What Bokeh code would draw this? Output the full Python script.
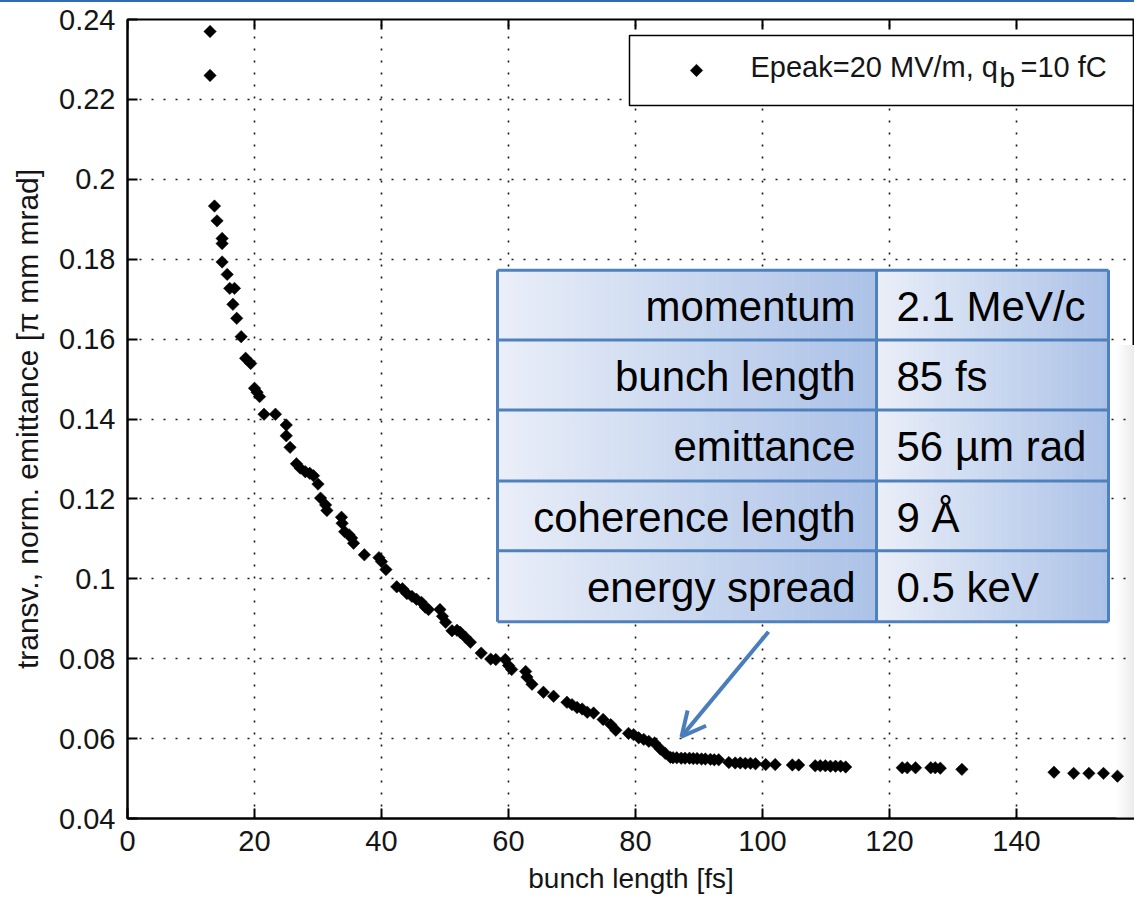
import math
from bokeh.plotting import figure
from bokeh.layouts import column
from bokeh.models import Range1d, FixedTicker, Arrow, OpenHead, Div
from bokeh.core.properties import value
from bokeh.embed import file_html
from bokeh.resources import INLINE

# ---------------- data ----------------
bunch_length_fs = [
    13.0, 13.0, 13.7, 14.1, 14.9, 14.9, 14.9, 15.7, 16.1, 16.85, 16.6, 17.2, 17.9,
    18.6, 19.4, 20.0, 20.4, 20.8, 21.5, 23.3, 25.0, 25.0, 25.6, 26.6, 27.2, 28.0,
    28.7, 29.3, 30.0, 30.4, 31.2, 31.4, 33.7, 33.8, 34.2, 34.9, 35.3, 35.6, 37.3,
    39.6, 40.0, 40.7, 42.4, 43.3, 44.0, 44.8, 45.5, 46.3, 46.9, 47.4, 49.2, 49.6,
    50.1, 51.1, 51.9, 52.4, 53.2, 54.0, 55.7, 57.2, 58.0, 59.5, 60.0, 60.5, 62.7,
    62.9, 63.7, 65.5, 67.1, 69.2, 70.0, 70.8, 71.6, 72.4, 73.4, 74.9, 76.1, 76.9,
    78.9, 79.7, 80.5, 81.3, 82.1, 83.0, 83.9, 84.7, 85.5, 85.9, 86.5, 87.2, 87.8,
    88.5, 89.1, 89.7, 90.4, 91.0, 91.8, 92.4, 93.1, 94.7, 95.7, 96.5, 97.3, 98.1,
    98.9, 100.5, 102.0, 104.7, 105.7, 108.3, 109.1, 109.9, 110.7, 111.5, 112.3,
    113.1, 122.0, 122.8, 124.1, 126.5, 127.2, 128.0, 131.4, 145.9, 149.0, 151.4,
    153.7, 155.9,
]
emittance = [
    0.2370, 0.2260, 0.1933, 0.1896, 0.1852, 0.1839, 0.1793, 0.1762, 0.1727, 0.1727,
    0.1687, 0.1652, 0.1606, 0.1552, 0.1539, 0.1477, 0.1467, 0.1456, 0.1412, 0.1412,
    0.1385, 0.1358, 0.1329, 0.1288, 0.1277, 0.1268, 0.1264, 0.1258, 0.1237, 0.1202,
    0.1185, 0.1171, 0.1154, 0.1139, 0.1118, 0.1110, 0.1102, 0.1089, 0.1060, 0.1053,
    0.1043, 0.1023, 0.0980, 0.0975, 0.0963, 0.0956, 0.0949, 0.0941, 0.0929, 0.0923,
    0.0923, 0.0906, 0.0891, 0.0870, 0.0871, 0.0866, 0.0854, 0.0841, 0.0814, 0.0799,
    0.0798, 0.0798, 0.0783, 0.0773, 0.0768, 0.0754, 0.0736, 0.0716, 0.0706, 0.0691,
    0.0685, 0.0678, 0.0674, 0.0666, 0.0664, 0.0648, 0.0635, 0.0621, 0.0613, 0.0610,
    0.0602, 0.0598, 0.0593, 0.0589, 0.0574, 0.0563, 0.0553, 0.0552, 0.0552, 0.0551,
    0.0551, 0.0551, 0.0550, 0.0550, 0.0549, 0.0549, 0.0548, 0.0547, 0.0547, 0.0540,
    0.0539, 0.0539, 0.0538, 0.0538, 0.0537, 0.0535, 0.0535, 0.0534, 0.0534, 0.0532,
    0.0532, 0.0532, 0.0531, 0.0531, 0.0531, 0.0529, 0.0527, 0.0527, 0.0527, 0.0527,
    0.0527, 0.0526, 0.0523, 0.0516, 0.0513, 0.0513, 0.0513, 0.0506,
]

x_ticks = [0, 20, 40, 60, 80, 100, 120, 140, 160]
x_tick_labels = ["0", "20", "40", "60", "80", "100", "120", "140", "160"]
y_ticks = [0.04, 0.06, 0.08, 0.10, 0.12, 0.14, 0.16, 0.18, 0.20, 0.22, 0.24]
y_tick_labels = ["0.04", "0.06", "0.08", "0.1", "0.12", "0.14", "0.16", "0.18",
                 "0.2", "0.22", "0.24"]

x_label = "bunch length [fs]"
y_label = "transv., norm. emittance [π mm mrad]"
legend_main = "Epeak=20 MV/m, q"
legend_sub = "b"
legend_tail = "=10 fC"

table_params = ["momentum", "bunch length", "emittance", "coherence length", "energy spread"]
table_values = ["2.1 MeV/c", "85 fs", "56 µm rad", "9 Å", "0.5 keV"]

# ---------------- layout (picture pixels) ----------------
BAR = 2                      # thin blue slide line at the very top
W, H = 1134, 896 - BAR
X_MIN, Y_MIN, Y_MAX = 0.0, 0.04, 0.24
XS = 127.0 / 20.0            # px per fs in the reference
IMG_FL, IMG_FT, IMG_FB = 127, 19, 819
FL, FT, FB = IMG_FL, IMG_FT - BAR, IMG_FB - BAR
X_MAX = X_MIN + (W - FL) / XS
YS = (FB - FT) / (Y_MAX - Y_MIN)


def dx(img_px):
    """picture-pixel x -> data x"""
    return X_MIN + (img_px - IMG_FL) / XS


def dy(img_px):
    """picture-pixel y -> data y"""
    return Y_MIN + (IMG_FB - img_px) / YS


def mid(baseline_px, size):
    """vertical middle of a text line whose baseline is at baseline_px"""
    return dy(baseline_px - 0.3465 * size)


FONT = "Liberation Sans"
TXT = "#151515"

p = figure(width=W, height=H, output_backend="svg", toolbar_location=None,
           x_range=Range1d(X_MIN, X_MAX), y_range=Range1d(Y_MIN, Y_MAX),
           min_border_left=FL, min_border_right=0, min_border_top=FT,
           min_border_bottom=H - FB)
p.background_fill_color = "white"
p.border_fill_color = "white"
p.outline_line_color = "black"
p.outline_line_width = 2

for ax in (p.xaxis[0], p.yaxis[0]):
    ax.axis_line_width = 2
    ax.axis_line_color = "black"
    ax.major_tick_in = 10
    ax.major_tick_out = 0
    ax.major_tick_line_width = 2
    ax.major_tick_line_color = "black"
    ax.minor_tick_line_color = None
    ax.major_label_text_font = FONT
    ax.major_label_text_font_size = "29px"
    ax.major_label_text_color = TXT
    ax.axis_label_text_font = FONT
    ax.axis_label_text_font_style = "normal"
    ax.axis_label_text_color = TXT

p.xaxis.ticker = FixedTicker(ticks=x_ticks)
p.yaxis.ticker = FixedTicker(ticks=y_ticks)
p.xaxis.major_label_overrides = {t: l for t, l in zip(x_ticks, x_tick_labels)}
p.yaxis.major_label_overrides = {t: l for t, l in zip(y_ticks, y_tick_labels)}
p.xaxis.axis_label = x_label
p.yaxis.axis_label = y_label
p.xaxis.axis_label_text_font_size = "28px"
p.yaxis.axis_label_text_font_size = "30px"
p.xaxis.major_label_standoff = 12
p.xaxis.axis_label_standoff = 9
p.yaxis.major_label_standoff = 12
p.yaxis.axis_label_standoff = 12

for g in (p.xgrid[0], p.ygrid[0]):
    g.grid_line_color = "black"
    g.grid_line_width = 1.6
    g.grid_line_dash = "2 10"
    g.grid_line_alpha = 0.9
p.xgrid.ticker = FixedTicker(ticks=x_ticks)
p.ygrid.ticker = FixedTicker(ticks=y_ticks)

# faint slide shadow at the right edge
sh_n = 12
sh_l = [dx(1116 + i * 18 / sh_n) for i in range(sh_n)]
sh_r = [dx(1116 + (i + 1) * 18 / sh_n + 0.5) for i in range(sh_n)]
sh_c = ["#%02x%02x%02x" % ((255 - round(20 * (i + 1) / sh_n),) * 3) for i in range(sh_n)]
p.quad(left=sh_l, right=sh_r, top=[dy(345)] * sh_n, bottom=[Y_MIN] * sh_n,
       fill_color=sh_c, line_color=None, level="image")

# ticks on the top frame edge (pointing inward)
p.segment(x0=x_ticks, x1=x_ticks, y0=[Y_MAX] * len(x_ticks),
          y1=[Y_MAX - 10 / YS] * len(x_ticks), line_color="black", line_width=2)

# data
p.scatter(bunch_length_fs, emittance, marker="square", angle=math.pi / 4,
          size=8.8, fill_color="black", line_color="black", line_width=0.5)

# ---------------- table overlay ----------------
c0 = (233, 238, 248)
c1 = (172, 194, 231)
N = 50


def grad_color(t):
    r = round(c0[0] + (c1[0] - c0[0]) * t)
    g = round(c0[1] + (c1[1] - c0[1]) * t)
    b = round(c0[2] + (c1[2] - c0[2]) * t)
    return "#%02x%02x%02x" % (r, g, b)


T_L, T_M, T_R = 497, 876, 1108
row_edges = [270, 340, 410, 481, 551, 622]
T_T, T_B = row_edges[0], row_edges[-1]

lefts, rights, cols = [], [], []
for a, b in ((T_L, T_M), (T_M, T_R)):
    for i in range(N):
        lefts.append(dx(a + (b - a) * i / N))
        rights.append(dx(a + (b - a) * (i + 1) / N + 0.5))
        cols.append(grad_color(i / (N - 1)))
p.quad(left=lefts, right=rights, top=[dy(T_T)] * len(lefts), bottom=[dy(T_B)] * len(lefts),
       fill_color=cols, line_color=None)

BORDER = "#4f81bd"
p.segment(x0=[dx(T_L)] * len(row_edges), x1=[dx(T_R)] * len(row_edges),
          y0=[dy(r) for r in row_edges], y1=[dy(r) for r in row_edges],
          line_color=BORDER, line_width=3)
p.segment(x0=[dx(T_L), dx(T_M), dx(T_R)], x1=[dx(T_L), dx(T_M), dx(T_R)],
          y0=[dy(T_T)] * 3, y1=[dy(T_B)] * 3, line_color=BORDER, line_width=3)

TS = 42
row_mids = [mid(r + 51, TS) for r in row_edges[:-1]]
p.text(x=[dx(855)] * len(table_params), y=row_mids, text=table_params,
       text_align="right", text_baseline="middle", text_font=value(FONT),
       text_font_size="%dpx" % TS, text_color="black")
p.text(x=[dx(896)] * len(table_values), y=row_mids, text=table_values,
       text_align="left", text_baseline="middle", text_font=value(FONT),
       text_font_size="%dpx" % TS, text_color="black")

# arrow
p.add_layout(Arrow(end=OpenHead(size=24, line_color="#4a7ebb", line_width=4),
                   x_start=dx(768), y_start=dy(632), x_end=dx(681), y_end=dy(737),
                   line_color="#4a7ebb", line_width=4))

# ---------------- legend ----------------
p.quad(left=[dx(629)], right=[dx(1133)], top=[dy(35)], bottom=[dy(105)],
       fill_color="white", line_color="black", line_width=1.5)
p.scatter([dx(696)], [dy(70)], marker="square", angle=math.pi / 4, size=8.8,
          fill_color="black", line_color="black", line_width=0.5)
p.text(x=[dx(750)], y=[mid(77, 29)], text=[legend_main], text_baseline="middle",
       text_font=value(FONT), text_font_size="29px", text_color=TXT)
p.text(x=[dx(999)], y=[mid(87, 28)], text=[legend_sub], text_baseline="middle",
       text_font=value(FONT), text_font_size="28px", text_color=TXT)
p.text(x=[dx(1020)], y=[mid(77, 29)], text=[legend_tail], text_baseline="middle",
       text_font=value(FONT), text_font_size="29px", text_color=TXT)

bar = Div(text="", width=W, height=BAR, margin=0,
          styles={"background-color": "#2f6db3"})
layout = column(bar, p, spacing=0)

open("out.html", "w").write(file_html(layout, INLINE))
